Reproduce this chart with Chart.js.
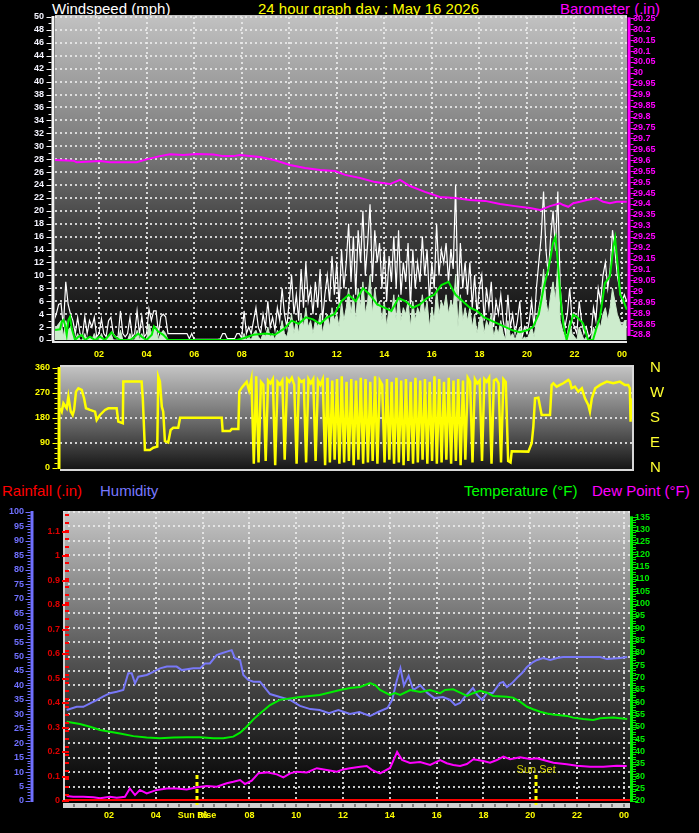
<!DOCTYPE html>
<html><head><meta charset="utf-8"><title>24 hour graph</title>
<script src="https://cdn.jsdelivr.net/npm/chart.js@4.4.1/dist/chart.umd.min.js"></script>
<style>
html,body{margin:0;padding:0;background:#000;}
body{position:relative;width:699px;height:833px;overflow:hidden;}
canvas{position:absolute;left:0;}
.t{position:absolute;font-family:"Liberation Sans",Arial,sans-serif;font-size:15px;line-height:15px;white-space:nowrap;}
</style></head><body>
<div class="t" style="left:52px;top:1px;color:#fff">Windspeed (mph)</div>
<div class="t" style="left:258px;top:1px;color:#ffff00">24 hour graph day : May 16 2026</div>
<div class="t" style="left:560px;top:1px;color:#ff00ff">Barometer (.in)</div>
<div class="t" style="left:2px;top:483px;color:#ff0000">Rainfall (.in)</div>
<div class="t" style="left:100px;top:483px;color:#7878ff">Humidity</div>
<div class="t" style="left:464px;top:483px;color:#00ff00">Temperature (°F)</div>
<div class="t" style="left:592px;top:483px;color:#ff00ff">Dew Point (°F)</div>
<canvas id="c1" width="699" height="365" style="top:0"></canvas>
<canvas id="c2" width="699" height="122" style="top:355px"></canvas>
<canvas id="c3" width="699" height="333" style="top:500px"></canvas>
<script>
// ---------- tick labels ----------
const hourTicks = [2,4,6,8,10,12,14,16,18,20,22,24];
const baroTicks = [28.8,28.85,28.9,28.95,29,29.05,29.1,29.15,29.2,29.25,29.3,29.35,29.4,29.45,29.5,29.55,29.6,29.65,29.7,29.75,29.8,29.85,29.9,29.95,30,30.05,30.1,30.15,30.2,30.25];
const dirTicks = [0,90,180,270,360];
const compass = ['N','E','S','W','N'];
const humTicks = [0,5,10,15,20,25,30,35,40,45,50,55,60,65,70,75,80,85,90,95,100];
const rainTicks = [0,0.1,0.2,0.3,0.4,0.5,0.6,0.7,0.8,0.9,1,1.1];
const tempTicks = [20,25,30,35,40,45,50,55,60,65,70,75,80,85,90,95,100,105,110,115,120,125,130,135];

// ---------- series (hour of day, value) ----------
const baro = [[0.15,29.601],[0.92,29.598],[1.06,29.591],[2.04,29.597],[2.46,29.591],[3.58,29.591],[4.0,29.604],[4.56,29.619],[4.99,29.627],[5.54,29.624],[6.11,29.629],[6.81,29.626],[7.23,29.619],[7.65,29.619],[7.93,29.624],[8.77,29.615],[9.4,29.60],[10.03,29.578],[10.67,29.565],[11.3,29.555],[11.93,29.551],[12.35,29.533],[12.98,29.519],[13.61,29.50],[14.24,29.491],[14.66,29.51],[15.08,29.482],[15.71,29.455],[16.34,29.432],[16.98,29.427],[17.6,29.418],[18.24,29.414],[18.87,29.40],[19.5,29.39],[20.13,29.381],[20.55,29.372],[20.97,29.39],[21.39,29.403],[21.53,29.395],[21.74,29.387],[21.95,29.403],[22.23,29.41],[22.52,29.418],[22.94,29.426],[23.21,29.41],[23.49,29.403],[23.78,29.41],[24.2,29.41]];

// gust & wind samples every 0.1 h starting 0.1 h (one row per hour)
const windT0 = 0.1, windDt = 0.1;
const gust = [
  3,4,5.5,5.7,2,9,5.5,4,3,1,
  3.5,1,0.5,3.6,1,3,2,3.5,0.5,1,
  3.3,1,0.5,3,3.5,1,0.5,0.5,4.5,1,
  0.5,1,3.5,0.5,1,4.5,1,3.6,0.5,1,
  4.8,3,4.5,4.5,1,3.6,4,3.6,1,1,
  1,1,1,1,1,1,1,0.2,1,0.1,
  0.1,0.1,0.1,0.1,0.1,0.1,0.1,0.1,0.1,0.1,
  0.2,1,1,0.2,0.2,0.2,0.2,1,1,0.3,
  4.5,1,2,1,3,5,2,1,4,2,
  6,2,3.5,1.5,5,3,8,4,2,6,
  10,4,7,3,11,5,12,6,8,4,
  9,5,11,3,7,10,6,13,7,12,
  5,14,8,12,18,9,16,7,17,12,
  20,10,15,21,9,17,12,15,8,14,
  6,13,9,16,8,17,7,12,9,15,
  5,14,8,12,9,16,10,14,6,12,
  8,18,10,14,12,15,9,14,11,24,
  6,15,8,12,7,12,5,10,4,8,
  10,3,8,5,9,2,6,4,7,3,
  1,7,2,4,1,3,6,0.5,2,1,
  3,6,2,8,12,16,23,14,10,16,
  20,14,23,8,4,2,4,8,3,2,
  1,6,3,1,2,0.5,1,5,3,8,
  6,10,12,8,11,17,14,10,8,6,
  7,6];
const windSpd = [
  1,2,2.5,3,0.5,3,1.5,2,1,0,
  1,0,0,1,0,0.5,0,1,0,0,
  1,0,0,0.5,1,0,0,0,1.5,0,
  0,0,1,0,0,1.5,0,1,0,0,
  2.5,1,2,1.5,0,1,1.5,1,0,0,
  0,0,0,0,0,0,0,0,0,0,
  0,0,0,0,0,0,0,0,0,0,
  0,0,0,0,0,0,0,0,0,0,
  1,0,0.5,0,1,1.5,0.5,0,1,0.5,
  2,0.5,1,0,1.5,1,3,1,0.5,2,
  4,1,3,1,4,2,5,2,3,1,
  3,2,4,1,3,4,2,5,3,4,
  2,6,3,5,8,4,7,3,8,5,
  9,4,6,10,4,8,5,6,3,6,
  2,5,4,7,3,7,3,5,4,6,
  2,6,3,5,4,7,4,6,2,5,
  3,8,4,6,5,7,4,6,5,10,
  2,7,3,5,3,5,2,4,1,3,
  4,1,3,2,4,0.5,2,1,3,1,
  0,3,0.5,1,0,1,2,0,0.5,0,
  1,2,0.5,3,5,7,11,6,4,7,
  9,6,12,3,1.5,0.5,1,3,1,0.5,
  0,2,1,0,0.5,0,0,2,1,3,
  2,4,5,3,5,8,6,4,3,2,
  3,3];
const avgWind = [[0.15,1.55],[0.36,1.65],[0.43,2.8],[0.5,3.1],[0.57,2.3],[0.64,0.8],[0.71,3.1],[0.78,3.6],[0.85,1.8],[0.99,0],[1.13,0.5],[1.27,0.8],[1.41,0],[1.62,0.5],[1.83,0],[2.04,0.5],[2.25,0],[2.53,1.2],[2.67,0.5],[2.88,0],[3.3,0],[3.44,0.3],[3.65,1],[3.79,0.5],[4.0,0],[4.22,0.8],[4.31,2.1],[4.49,1.3],[4.7,0.8],[4.91,0],[7.8,0],[8.1,0.3],[8.5,0.8],[9.0,1],[9.4,0.8],[9.8,1.8],[10.1,3],[10.4,2.5],[10.7,3.5],[11.0,3.2],[11.3,2.5],[11.6,3.5],[11.9,4],[12.2,6],[12.5,7],[12.8,6],[13.1,8],[13.4,7],[13.7,5.5],[14.0,5],[14.3,4.5],[14.6,6.5],[14.9,6],[15.2,5],[15.5,5.5],[15.8,6.5],[16.1,7],[16.4,8.5],[16.7,9],[17.0,7],[17.3,6],[17.6,5],[17.9,4.5],[18.2,3.5],[18.5,3],[18.8,2.5],[19.1,2],[19.4,1.5],[19.7,1.2],[20.0,1.5],[20.25,2],[20.5,4],[20.7,8],[20.9,11],[21.1,15],[21.2,16],[21.3,12],[21.45,5],[21.55,2],[21.67,0],[21.94,3.9],[22.1,3.6],[22.36,2.6],[22.57,0],[22.78,0],[22.94,2],[23.08,3.6],[23.28,8.8],[23.49,9.8],[23.64,14.5],[23.71,15.8],[23.85,10.4],[23.92,7],[24.05,6.2],[24.2,4.7]];

// wind direction (degrees)
const dirEarly = [[0.15,215],[0.22,203],[0.29,233],[0.43,215],[0.5,257],[0.6,203],[0.68,191],[0.74,209],[0.82,275],[0.92,287],[1.06,281],[1.16,251],[1.24,215],[1.41,209],[1.62,203],[1.69,173],[1.83,191],[2.04,209],[2.18,215],[2.53,215],[2.6,167],[2.79,161],[2.81,311],[3.58,311],[3.63,251],[3.72,65],[3.93,65],[4.07,73],[4.24,77],[4.28,329],[4.35,311],[4.43,221],[4.49,203],[4.56,97],[4.7,92],[4.8,137],[4.91,145],[5.12,145],[5.2,181],[6.95,181],[6.99,133],[7.3,133],[7.37,140],[7.65,140],[7.69,275]];
const dirMidT0 = 7.8, dirMidDt = 0.1;
const dirMid = [290,300,310,280,320,15,330,20,310,300,25,315,305,320,10,310,300,315,30,320,310,325,300,15,320,310,315,20,320,305,320,25,315,300,320,10,325,20,315,30,320,15,330,20,310,25,320,10,315,30,325,15,320,20,310,25,330,15,315,300,20,320,30,310,15,325,20,315,10,320,25,310,15,325,20,315,30,320,15,310,25,330,15,320,20,310,30,325,15,315,25,320,10,315,30,325,310,20,320,305,315,25,320,310,325,15,315,320,305,20,320,310,25,20];
const dirLate = [[19.15,60],[19.85,59],[19.99,89],[20.06,149],[20.13,251],[20.27,253],[20.41,191],[20.76,191],[20.83,299],[20.9,305],[21.04,293],[21.18,299],[21.32,305],[21.53,317],[21.6,311],[21.67,287],[21.81,293],[21.95,275],[22.1,287],[22.23,251],[22.37,227],[22.44,203],[22.52,251],[22.66,287],[22.87,299],[23.15,311],[23.42,305],[23.7,311],[23.91,299],[24.05,299],[24.12,287],[24.15,167],[24.19,251]];

const humidity = [[0.19,31.5],[0.62,32.6],[0.9,32.6],[1.19,33.8],[1.47,34.9],[1.74,36.1],[2.04,37.3],[2.33,37.8],[2.61,38.4],[2.82,44.2],[2.97,44.2],[3.11,40.7],[3.25,43],[3.61,43.6],[3.89,44.7],[4.18,45.9],[4.47,46.5],[4.89,46.5],[5.11,45.3],[5.6,45.9],[5.89,45.9],[6.1,47.6],[6.31,47.6],[6.6,50.5],[6.82,51.1],[7.03,51.7],[7.24,52.2],[7.38,49.4],[7.6,48.8],[7.74,43.6],[7.95,41.9],[8.17,41.3],[8.45,41.3],[8.88,37],[9.3,36],[9.74,35],[10.16,32.9],[10.6,31.8],[11.0,31.5],[11.4,30.4],[11.8,31.5],[12.3,30.1],[12.7,30.8],[13.15,29.4],[13.5,30.8],[13.9,32.2],[14.1,35],[14.3,41.9],[14.45,46],[14.6,40],[14.8,43.3],[15.0,38.4],[15.3,40],[15.6,37.4],[15.9,35.6],[16.27,36.0],[16.57,35.0],[16.79,33.2],[17.0,33.9],[17.2,36.0],[17.55,39.1],[17.73,36.7],[17.94,35.0],[18.15,37.4],[18.4,37.4],[18.7,40.8],[18.84,41.2],[19.0,39.4],[19.22,40.8],[19.43,42.6],[19.65,44.3],[19.86,46.4],[20.12,48.1],[20.29,48.8],[20.55,49.5],[20.85,48.8],[21.15,49.5],[21.4,49.8],[21.83,49.8],[22.98,49.8],[23.28,49.1],[23.84,49.5],[24.14,49.8]];
const temperature = [[0.19,52.1],[0.76,51.2],[1.19,50.1],[1.62,48.8],[2.04,48.1],[2.47,47.4],[3.04,46.3],[3.61,45.7],[4.18,45.4],[4.75,45.7],[5.32,45.8],[5.89,45.8],[6.46,45.4],[6.88,45.4],[7.31,46.1],[7.6,47.7],[7.88,50.1],[8.17,53.1],[8.45,55.5],[8.88,58.9],[9.3,61],[10.16,62.2],[11.0,63],[11.87,65],[12.3,65.8],[12.73,66.2],[13.15,67.8],[13.37,67],[13.58,65],[14.0,63],[14.22,63.8],[14.44,63],[14.87,65],[15.3,64.2],[15.72,65],[16.15,63.7],[16.36,65],[16.7,65.3],[17.0,63.9],[17.3,62.6],[17.56,63.7],[17.85,64.7],[18.15,63.9],[18.41,62.6],[19.0,62.3],[19.26,61.9],[19.56,60.3],[19.86,58.2],[20.12,57.2],[20.42,56.2],[20.72,55.5],[20.97,55.1],[21.57,54.5],[21.83,53.8],[22.26,53.2],[22.69,52.8],[22.98,53.5],[23.54,53.8],[24.14,53.2]];
const dewPoint = [[0.19,22.0],[0.47,21.7],[0.9,21.7],[1.33,21.5],[1.62,21.1],[2.04,21.7],[2.33,21.3],[2.68,21.7],[2.89,25.1],[3.11,22.4],[3.32,24.5],[3.61,23.1],[4.04,24.5],[4.47,25.1],[4.89,25.1],[5.32,24.7],[5.75,25.6],[6.18,26.1],[6.6,25.8],[7.03,27.2],[7.31,27.8],[7.6,28.5],[7.81,26.9],[8.1,28.2],[8.38,31.2],[8.74,31.6],[9.17,30.8],[9.45,29.6],[9.74,31.2],[10.02,31.9],[10.45,31.6],[10.88,33.3],[11.3,32.6],[11.73,31.9],[12.01,32.8],[12.3,33.3],[12.73,33.9],[13.01,34.2],[13.23,32.6],[13.58,31.2],[14.01,33.4],[14.31,39.9],[14.52,36.6],[14.86,35.4],[15.29,35.8],[15.72,34.6],[16.15,36.6],[16.43,35.3],[16.71,34.6],[17.0,34.2],[17.29,35.0],[17.57,36.9],[17.99,36.2],[18.28,35.5],[18.57,36.6],[18.85,38.0],[19.14,36.9],[19.56,37.7],[19.99,37.0],[20.28,37.3],[20.56,36.6],[20.99,35.5],[21.56,34.9],[21.99,34.3],[22.56,33.9],[23.12,33.9],[23.7,34.3],[24.12,34.2]];
const rainfall = [[0,0],[24.3,0]];
const sunRise = 5.76, sunSet = 20.25;

// ---------- helpers ----------
Chart.defaults.font.family = '"Liberation Sans", Arial, sans-serif';
const F9 = {size: 9, weight: 'bold'};
const pairs = a => a.map(([x, y]) => ({x, y}));
const sampled = (t0, dt, a) => a.map((y, i) => ({x: +(t0 + i * dt).toFixed(2), y}));
const hh = v => { const h = Math.round(v) % 24; return (h < 10 ? '0' : '') + h; };
const setTicks = arr => s => { s.ticks = arr.map(v => ({value: v})); };
const noGrid = {display: false, drawTicks: false};
// invisible tick marks used only as horizontal gap between a y-axis and its labels
const gapGrid = n => ({display: true, drawOnChartArea: false, drawTicks: true, tickLength: n, color: 'rgba(0,0,0,0)'});
const noBorder = {display: false};

const bgPlugin = {id: 'bg', beforeDraw(chart, args, o) {
  const {ctx, chartArea: a} = chart;
  const top = a.top - (o.extTop || 0), bot = a.bottom + (o.extBottom || 0);
  const g = ctx.createLinearGradient(0, top, 0, bot);
  o.stops.forEach(([p, c]) => g.addColorStop(p, c));
  ctx.save(); ctx.fillStyle = g;
  ctx.fillRect(a.left - (o.extLeft || 0), top, a.right - a.left + (o.extLeft || 0) + (o.extRight || 0), bot - top);
  ctx.restore();
}};
const gridPlugin = {id: 'dotgrid', beforeDatasetsDraw(chart, args, o) {
  const {ctx, chartArea: a} = chart;
  ctx.save(); ctx.strokeStyle = o.color; ctx.lineWidth = o.width; ctx.setLineDash(o.dash);
  if (o.xAxis) { const s = chart.scales[o.xAxis];
    s.ticks.forEach(t => { const x = Math.round(s.getPixelForValue(t.value)); if (x < a.left || x > a.right + 1) return;
      ctx.beginPath(); ctx.moveTo(x, a.top); ctx.lineTo(x, a.bottom); ctx.stroke(); }); }
  if (o.yAxis) { const s = chart.scales[o.yAxis];
    s.ticks.forEach(t => { if ((o.skipY || []).includes(t.value)) return; const y = Math.round(s.getPixelForValue(t.value));
      ctx.beginPath(); ctx.moveTo(a.left, y); ctx.lineTo(a.right, y); ctx.stroke(); }); }
  ctx.restore();
}};
const rulerPlugin = {id: 'rulers', afterDraw(chart, args, o) {
  const ctx = chart.ctx;
  (o.items || []).forEach(r => {
    const s = chart.scales[r.axis];
    const y1 = s.getPixelForValue(r.max), y2 = s.getPixelForValue(r.min);
    ctx.save(); ctx.fillStyle = r.color; ctx.strokeStyle = r.color; ctx.lineWidth = 1;
    ctx.fillRect(r.x - r.w / 2, y1 - 1, r.w, y2 - y1 + 2);
    const n = Math.round((r.max - r.min) / r.minor);
    for (let i = 0; i <= n; i++) {
      const v = r.min + i * r.minor;
      const major = Math.abs(v / r.major - Math.round(v / r.major)) < 1e-6;
      const y = Math.round(s.getPixelForValue(v)) + 0.5;
      const x0 = r.x + r.dir * r.w / 2;
      ctx.beginPath(); ctx.moveTo(x0, y); ctx.lineTo(x0 + r.dir * (major ? r.majorLen : r.minorLen), y); ctx.stroke();
    }
    ctx.restore();
  });
}};
const baseOpts = {animation: false, responsive: false, events: [],
  elements: {point: {radius: 0}, line: {tension: 0}}};

// ---------- panel 1: wind speed & barometer ----------
new Chart(document.getElementById('c1'), {
  type: 'line',
  data: {datasets: [
    {label: 'Barometer', data: pairs(baro), yAxisID: 'baro', borderColor: '#ff00ff', borderWidth: 2, order: 0},
    {label: 'Average wind', data: pairs(avgWind), yAxisID: 'wind', borderColor: '#00ee00', borderWidth: 2, order: 1},
    {label: 'Wind speed', data: sampled(windT0, windDt, windSpd), yAxisID: 'wind', borderColor: '#cdeccd', backgroundColor: '#cdeccd', fill: 'origin', borderWidth: 1, order: 2},
    {label: 'Gust', data: sampled(windT0, windDt, gust), yAxisID: 'wind', borderColor: '#ffffff', borderWidth: 1.2, order: 3}
  ]},
  options: {...baseOpts,
    layout: {padding: {top: 17, left: 0, right: 0, bottom: 0}},
    plugins: {legend: {display: false}, tooltip: {enabled: false},
      bg: {extTop: 2, extBottom: 2, stops: [[0, '#c2c2c2'], [0.45, '#727272'], [0.62, '#484848'], [0.8, '#282828'], [1, '#080808']]},
      dotgrid: {color: 'rgba(235,235,235,0.85)', width: 2, dash: [2, 3], xAxis: 'x', yAxis: 'wind', skipY: [0]},
      rulers: {items: [
        {axis: 'wind', x: 53, w: 3, dir: -1, color: '#f4f4f4', min: 0, max: 50, minor: 1, major: 2, majorLen: 5, minorLen: 3},
        {axis: 'baro', x: 629, w: 3, dir: 1, color: '#ff00ff', min: 28.8, max: 30.25, minor: 0.025, major: 0.05, majorLen: 5, minorLen: 3}
      ]}},
    scales: {
      x: {type: 'linear', min: 0.147, max: 24.21, afterFit: s => { s.height = 25; }, afterBuildTicks: setTicks(hourTicks),
        grid: noGrid, border: noBorder, ticks: {color: '#ffff00', font: F9, padding: 9, maxRotation: 0, autoSkip: false, callback: v => hh(v)}},
      wind: {position: 'left', min: 0, max: 50, afterFit: s => { s.width = 55; },
        grid: gapGrid(11), border: noBorder, ticks: {stepSize: 2, color: '#f4f4ff', font: F9, padding: 0, autoSkip: false}},
      baro: {position: 'right', min: 28.777, max: 30.256, afterFit: s => { s.width = 72; }, afterBuildTicks: setTicks(baroTicks),
        grid: gapGrid(6), border: noBorder, ticks: {color: '#ff00ff', font: F9, padding: 0, autoSkip: false, callback: v => String(+v.toFixed(2))}}
    }},
  plugins: [bgPlugin, gridPlugin, rulerPlugin, {id: 'frame1', afterDatasetsDraw(chart) {
    const {ctx, chartArea: a} = chart; ctx.save(); ctx.fillStyle = '#e8e8e8';
    ctx.fillRect(a.left - 3, a.bottom + 1, a.right - a.left + 3, 2); ctx.restore(); }}]
});

// ---------- panel 2: wind direction ----------
new Chart(document.getElementById('c2'), {
  type: 'line',
  data: {datasets: [
    {label: 'Wind direction', data: pairs(dirEarly).concat(sampled(dirMidT0, dirMidDt, dirMid), pairs(dirLate)), yAxisID: 'dir', borderColor: '#ffff00', borderWidth: 2.5}
  ]},
  options: {...baseOpts,
    layout: {padding: {top: 13, left: 0, right: 0, bottom: 0}},
    plugins: {legend: {display: false}, tooltip: {enabled: false},
      bg: {extTop: 2, extBottom: 2, stops: [[0, '#c4c4c4'], [0.5, '#707070'], [1, '#141414']]},
      dotgrid: {color: 'rgba(235,235,235,0.85)', width: 2, dash: [2, 3], yAxis: 'dir', skipY: [0, 360]},
      rulers: {items: [{axis: 'dir', x: 59, w: 3, dir: -1, color: '#ffff00', min: 0, max: 360, minor: 18, major: 90, majorLen: 5, minorLen: 3}]}},
    scales: {
      x: {type: 'linear', min: 0.147, max: 24.21, afterFit: s => { s.height = 9; },
        grid: noGrid, border: noBorder, ticks: {display: false}},
      dir: {position: 'left', min: 0, max: 360, afterFit: s => { s.width = 60; }, afterBuildTicks: setTicks(dirTicks),
        grid: gapGrid(10), border: noBorder, ticks: {color: '#ffff00', font: F9, padding: 0, autoSkip: false}},
      dirR: {position: 'right', min: 0, max: 360, afterFit: s => { s.width = 67; }, afterBuildTicks: setTicks(dirTicks),
        grid: gapGrid(18), border: noBorder, ticks: {color: '#ffff30', font: {size: 15, weight: 'normal'}, padding: 0, autoSkip: false, callback: v => compass[dirTicks.indexOf(v)]}}
    }},
  plugins: [bgPlugin, gridPlugin, rulerPlugin, {id: 'frame2', afterDatasetsDraw(chart) {
    const {ctx, chartArea: a} = chart; ctx.save(); ctx.strokeStyle = '#d8d8d8'; ctx.lineWidth = 2;
    ctx.beginPath(); ctx.moveTo(a.left, a.top - 2); ctx.lineTo(a.right + 1, a.top - 2); ctx.lineTo(a.right + 1, a.bottom + 2); ctx.lineTo(a.left, a.bottom + 2); ctx.stroke();
    ctx.restore(); }}]
});

// ---------- panel 3: rain, humidity, temperature, dew point ----------
new Chart(document.getElementById('c3'), {
  type: 'line',
  data: {datasets: [
    {label: 'Rainfall', data: pairs(rainfall), yAxisID: 'rain', borderColor: '#ff0000', borderWidth: 4, order: 0},
    {label: 'Dew Point', data: pairs(dewPoint), yAxisID: 'temp', borderColor: '#ff00ff', borderWidth: 2, order: 1},
    {label: 'Temperature', data: pairs(temperature), yAxisID: 'temp', borderColor: '#00ee00', borderWidth: 2, order: 2},
    {label: 'Humidity', data: pairs(humidity), yAxisID: 'hum', borderColor: '#7878f8', borderWidth: 2, order: 3}
  ]},
  options: {...baseOpts,
    layout: {padding: {top: 12, left: 0, right: 0, bottom: 0}},
    plugins: {legend: {display: false}, tooltip: {enabled: false},
      bg: {extTop: 1, extBottom: 0, stops: [[0, '#c6c6c6'], [0.5, '#565656'], [0.8, '#202020'], [1, '#000000']]},
      dotgrid: {color: 'rgba(235,235,235,0.85)', width: 2, dash: [2, 3], xAxis: 'x', yAxis: 'hum', skipY: [0]},
      rulers: {items: [
        {axis: 'hum', x: 32, w: 3, dir: -1, color: '#7070ff', min: 0, max: 100, minor: 1, major: 5, majorLen: 5, minorLen: 3},
        {axis: 'temp', x: 631.5, w: 3, dir: 1, color: '#00ee00', min: 20, max: 135, minor: 1, major: 5, majorLen: 5, minorLen: 3}
      ]}},
    scales: {
      x: {type: 'linear', min: 0.034, max: 24.26, afterFit: s => { s.height = 32; }, afterBuildTicks: setTicks(hourTicks),
        grid: noGrid, border: noBorder, ticks: {color: '#ffff00', font: F9, padding: 9, maxRotation: 0, autoSkip: false, callback: v => hh(v)}},
      hum: {position: 'left', weight: 1, min: 0, max: 100, afterFit: s => { s.width = 36; }, afterBuildTicks: setTicks(humTicks),
        grid: gapGrid(12), border: noBorder, ticks: {color: '#7070ff', font: F9, padding: 0, autoSkip: false}},
      rain: {position: 'left', weight: 0, min: 0, max: 1.1796, afterFit: s => { s.width = 27; }, afterBuildTicks: setTicks(rainTicks),
        grid: gapGrid(3), border: noBorder, ticks: {color: '#dd0000', font: F9, padding: 0, autoSkip: false, callback: v => String(+v.toFixed(1))}},
      temp: {position: 'right', min: 20, max: 137.15, afterFit: s => { s.width = 69; }, afterBuildTicks: setTicks(tempTicks),
        grid: gapGrid(5), border: noBorder, ticks: {color: '#00ee00', font: F9, padding: 0, autoSkip: false}}
    }},
  plugins: [bgPlugin, gridPlugin, rulerPlugin, {id: 'extra3', afterDatasetsDraw(chart) {
    const {ctx, chartArea: a} = chart; const xs = chart.scales.x, rs = chart.scales.rain;
    ctx.save();
    ctx.fillStyle = '#d0d0d0'; ctx.fillRect(a.left, a.top, 2, a.bottom - a.top);
    ctx.fillRect(a.left, a.bottom + 2, a.right - a.left, 5);
    ctx.fillStyle = '#808080';
    for (let h = 0.5; h < 24.3; h += 0.5) { const x = Math.round(xs.getPixelForValue(h)); ctx.fillRect(x - 1, a.bottom + 3, 2, 3); }
    ctx.strokeStyle = '#ff0000'; ctx.lineWidth = 4; ctx.setLineDash([2, 6]);
    ctx.beginPath(); ctx.moveTo(a.left + 4, a.top + 2); ctx.lineTo(a.left + 4, a.bottom); ctx.stroke();
    ctx.setLineDash([]); ctx.lineWidth = 2;
    rainTicks.forEach(v => { const y = Math.round(rs.getPixelForValue(v)); ctx.beginPath(); ctx.moveTo(a.left - 1, y); ctx.lineTo(a.left + 6, y); ctx.stroke(); });
    ctx.strokeStyle = '#ffff00'; ctx.lineWidth = 3; ctx.setLineDash([4, 3]);
    [sunRise, sunSet].forEach(h => { const x = Math.round(xs.getPixelForValue(h)); ctx.beginPath(); ctx.moveTo(x, a.bottom - 26); ctx.lineTo(x, a.bottom + 4); ctx.stroke(); });
    ctx.setLineDash([]);
    ctx.textAlign = 'center'; ctx.textBaseline = 'middle';
    ctx.fillStyle = '#ffff00'; ctx.font = 'bold 9px "Liberation Sans", Arial, sans-serif';
    ctx.fillText('Sun Rise', xs.getPixelForValue(sunRise), a.bottom + 14.5);
    ctx.fillStyle = '#d4d400'; ctx.font = '11px "Liberation Sans", Arial, sans-serif';
    ctx.fillText('Sun Set', xs.getPixelForValue(sunSet), a.bottom - 31);
    ctx.restore(); }}]
});
</script>
</body></html>
